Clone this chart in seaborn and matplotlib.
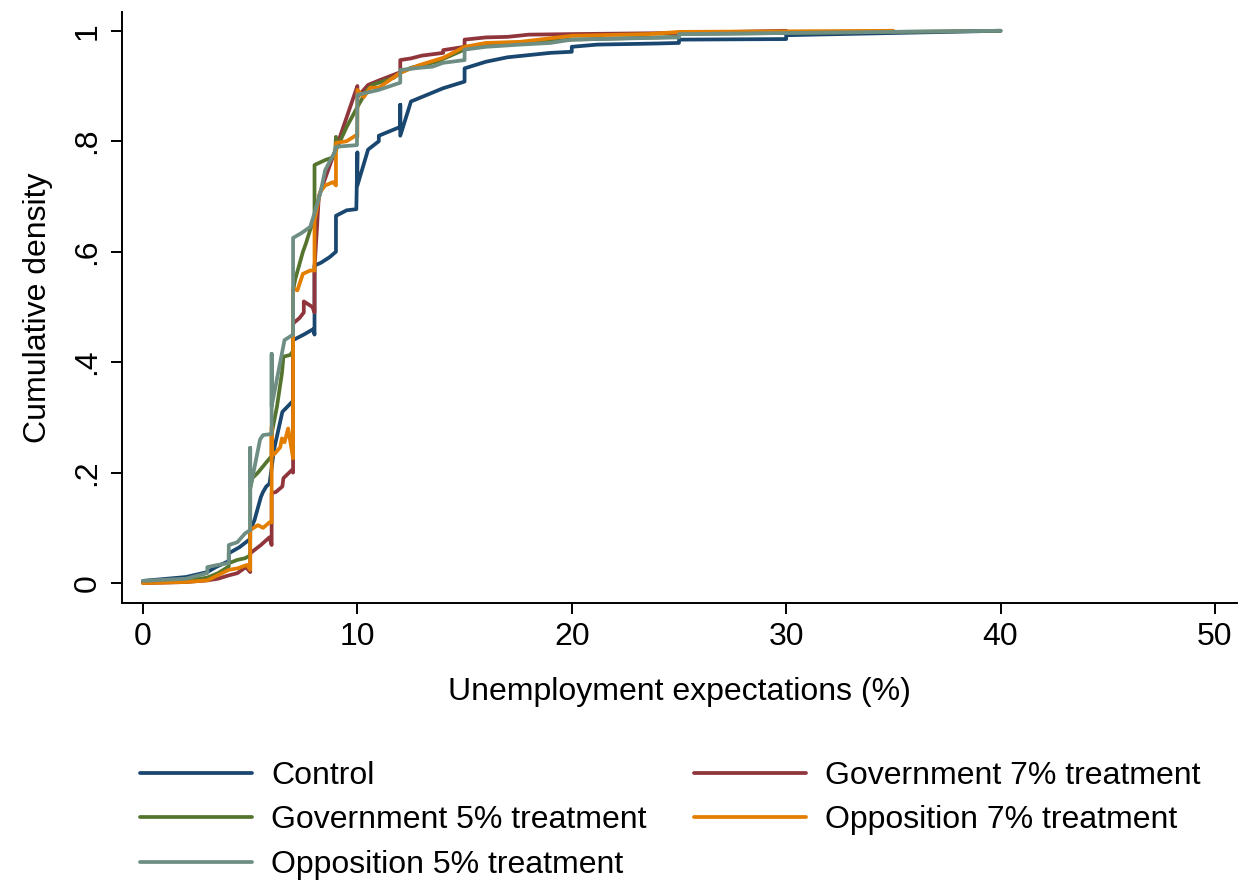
import numpy as np
import pandas as pd
import matplotlib
matplotlib.use("Agg")
import matplotlib.pyplot as plt
from matplotlib.lines import Line2D
import seaborn as sns

# Cumulative density of unemployment expectations, one path per group
control_x = [0, 2, 3, 3.4, 4, 4, 4.5, 5, 5, 5.2, 5.5, 5.6, 5.75, 5.9, 6, 6.1, 6.3, 6.5, 6.75,
             7, 7, 7.5, 7.95, 8, 8, 8.3, 8.7, 9, 9, 9.5, 9.95, 10, 10, 10.5, 11, 11,
             12, 12, 12, 12.5, 13, 14, 15, 15, 16, 17, 18, 19, 20, 20, 21.2, 24, 25, 25,
             30, 30, 35, 40]
control_y = [.004, .011, .02, .029, .04, .054, .065, .08, .096, .114, .156, .165, .175, .18, .208,
             .24, .275, .31, .32, .33, .44, .45, .46, .45, .575, .58, .59, .60, .665, .675, .677,
             .78, .72, .785, .80, .81, .826, .866, .81, .872, .88, .896, .908, .932, .944, .952,
             .956, .96, .962, .971, .975, .977, .978, .984, .985, .992, .996, 1.0]

gov7_x = [0, 2, 3, 3.5, 4, 4.4, 4.8, 5, 5, 5.2, 5.5, 5.9, 6, 6, 6.2, 6.5, 6.55, 6.95, 7, 7,
          7.3, 7.5, 7.5, 7.9, 8, 8, 8.1, 8.2, 8.7, 9, 10, 10, 10.5, 11, 12, 12, 12.5, 13, 14,
          14, 15, 15, 16, 17, 18, 20, 25, 30]
gov7_y = [0, .002, .005, .008, .014, .018, .029, .02, .054, .06, .069, .083, .069, .163, .165,
          .175, .19, .205, .2, .47, .48, .49, .51, .50, .49, .57, .634, .70, .755, .787, .9, .88,
          .902, .91, .925, .947, .95, .955, .96, .965, .971, .984, .988, .989, .993, .994, .996,
          1.0]

gov5_x = [0, 2, 3, 3.5, 4, 4, 4.4, 4.75, 5, 5, 5.1, 5.36, 5.78, 6, 6, 6.25, 6.48, 6.55, 6.86,
          7, 7, 7.1, 7.46, 7.6, 7.8, 8, 8, 8.5, 8.95, 9, 9, 9.5, 10, 10.45, 10.7, 11.7, 12, 12.5,
          13.7, 15, 16, 17.6, 20, 25, 25, 30, 40]
gov5_y = [.002, .004, .01, .018, .03, .036, .042, .045, .05, .17, .19, .20, .22, .23, .27, .32,
          .38, .41, .413, .42, .53, .55, .60, .615, .64, .66, .757, .766, .772, .808, .784, .826,
          .862, .893, .902, .915, .924, .933, .944, .966, .975, .978, .984, .989, .994, .996, 1.0]

opp7_x = [0, 2, 3, 4, 4.43, 4.85, 5, 5, 5.36, 5.6, 5.9, 6, 6, 6, 6.16, 6.4, 6.48, 6.6, 6.77,
          7, 7, 7.2, 7.46, 7.8, 8, 8, 8.26, 8.5, 8.86, 9, 9, 9.5, 9.9, 10, 10, 10.3, 10.6, 11,
          12, 12.9, 14, 15, 16, 17.6, 20, 23.6, 25, 35]
opp7_y = [0, .002, .005, .024, .027, .033, .024, .096, .105, .10, .11, .11, .283, .23, .235,
          .246, .262, .255, .28, .226, .534, .53, .56, .566, .566, .656, .708, .72, .726, .72,
          .797, .80, .81, .808, .893, .88, .897, .897, .924, .938, .951, .971, .978, .98, .991,
          .994, .998, 1.0]

opp5_x = [0, 2, 3, 3, 3.5, 4, 4, 4.4, 4.76, 5, 5, 5, 5.1, 5.46, 5.6, 6, 6, 6, 6.3, 6.5, 6.6,
          7, 7, 7.4, 7.8, 8, 8.27, 8.5, 8.95, 9, 9.98, 10, 10.45, 11, 12, 12, 12.9, 13.5, 14,
          15, 15, 16, 17.6, 19, 20, 23.6, 25, 25, 30, 40]
opp5_y = [.004, .008, .018, .029, .033, .036, .069, .074, .09, .096, .245, .175, .19, .26, .268,
          .27, .415, .32, .38, .42, .44, .45, .625, .634, .645, .67, .706, .748, .781, .79, .793,
          .884, .888, .893, .906, .929, .933, .935, .942, .947, .966, .971, .975, .978, .984,
          .987, .988, .994, .996, 1.0]

groups = ["Control", "Government 7% treatment", "Government 5% treatment",
          "Opposition 7% treatment", "Opposition 5% treatment"]
series_x = [control_x, gov7_x, gov5_x, opp7_x, opp5_x]
series_y = [control_y, gov7_y, gov5_y, opp7_y, opp5_y]
colors = ["#1a476f", "#90353b", "#55752f", "#e37e00", "#6e8e84"]
palette = dict(zip(groups, colors))

frames = []
for g, xs, ys in zip(groups, series_x, series_y):
    frames.append(pd.DataFrame({"x": xs, "y": ys, "group": g}))
df = pd.concat(frames, ignore_index=True)

sns.set_theme(style="white")
plt.rcParams["font.family"] = ["Liberation Sans", "DejaVu Sans"]
plt.rcParams.update({"text.color": "black", "axes.labelcolor": "black",
                     "xtick.color": "black", "ytick.color": "black"})

LW = 2.7
fig = plt.figure(figsize=(12.41, 8.83), dpi=100)
ax = fig.add_axes([122 / 1241, 1 - 603 / 883, (1237 - 122) / 1241, (603 - 12) / 883])

sns.lineplot(data=df, x="x", y="y", hue="group", hue_order=groups, palette=palette,
             sort=False, estimator=None, units="group", linewidth=LW, legend=False, ax=ax)

ax.set_xlim(-0.98, 51.03)
ax.set_ylim(-0.036, 1.034)
ax.set_xticks([0, 10, 20, 30, 40, 50])
ax.set_xticklabels(["0", "10", "20", "30", "40", "50"], fontsize=23)
ax.set_yticks([0, 0.2, 0.4, 0.6, 0.8, 1.0])
ax.set_yticklabels(["0", ".2", ".4", ".6", ".8", "1"], fontsize=23, rotation=90, va="center")
ax.tick_params(axis="both", direction="out", length=8, width=1.4, color="black",
               left=True, bottom=True, pad=6)
ax.set_xlabel("Unemployment expectations (%)", fontsize=23, labelpad=18)
ax.set_ylabel("Cumulative density", fontsize=23, labelpad=14)
for side in ["top", "right"]:
    ax.spines[side].set_visible(False)
for side in ["left", "bottom"]:
    ax.spines[side].set_color("black")
    ax.spines[side].set_linewidth(1.4)
ax.grid(False)

# Two-column key, filled row by row
key_order = ["Control", "Government 5% treatment", "Opposition 5% treatment",
             "Government 7% treatment", "Opposition 7% treatment"]
handles = [Line2D([0], [0], color=palette[k], lw=LW) for k in key_order]
fig.legend(handles, key_order, loc="upper left", bbox_to_anchor=(140 / 1241, 1 - 761 / 883),
           ncol=2, frameon=False, fontsize=23, handlelength=3.5, handletextpad=0.6,
           columnspacing=1.5, labelspacing=0.45, borderpad=0, borderaxespad=0)

fig.savefig("out.png", dpi=100, facecolor="white")
